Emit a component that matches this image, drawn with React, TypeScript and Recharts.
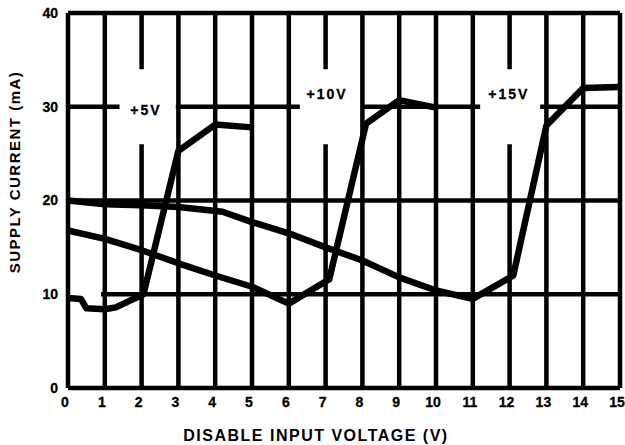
import { LineChart, Line, XAxis, YAxis, ReferenceLine, ReferenceDot } from 'recharts'

// disable input voltage (V) vs supply current (mA), one curve per supply
const v5X = [0, 0.35, 0.5, 1, 1.3, 2.05, 3, 4, 5]
const v5Y = [9.6, 9.5, 8.5, 8.4, 8.6, 10, 25.3, 28.1, 27.8]

const v10X = [0, 1, 2, 3, 4, 5, 6, 7.1, 8.1, 9, 10]
const v10Y = [16.8, 15.9, 14.7, 13.3, 12.0, 10.8, 9.0, 11.6, 28.2, 30.7, 29.9]

const v15X = [0, 1, 2, 3, 4.2, 5, 6, 7, 8, 9, 10, 11, 12.1, 13, 14, 15]
const v15Y = [20, 19.6, 19.5, 19.3, 18.8, 17.7, 16.5, 15.0, 13.6, 11.8, 10.4, 9.5, 12.0, 28.0, 32.0, 32.1]

const xTicks = [0, 1, 2, 3, 4, 5, 6, 7, 8, 9, 10, 11, 12, 13, 14, 15]
const yTicks = [0, 10, 20, 30, 40]

const curveLabels = [
  { text: '+5V', x: 2.12, y: 29.6 },
  { text: '+10V', x: 7.04, y: 31.4 },
  { text: '+15V', x: 11.98, y: 31.4 },
]

// full-height grid lines, and the ones broken where a curve label sits
const fullVerticals = [1, 3, 4, 5, 6, 8, 9, 10, 11, 13, 14, 15]
const brokenVerticals = [2, 7, 12]
const row30 = [[0, 1.4], [2.93, 6.3], [7.96, 11.2], [12.83, 15]]

const toPoints = (xs: number[], ys: number[]) => xs.map((x, i) => ({ x, y: ys[i] }))

const FONT = '"Liberation Sans", Arial, sans-serif'
const GRID = { stroke: '#000', strokeWidth: 4.5 }

export default function App() {
  const tickStyle = {
    fill: '#000', fontSize: 14, fontWeight: 700, fontFamily: FONT,
    stroke: '#000', strokeWidth: 0.3,
  }

  return (
    <div style={{ position: 'absolute', left: 0, top: 0, background: '#fff' }}>
      <LineChart width={625} height={445} margin={{ top: 13, right: 5, bottom: 0, left: 0 }}>
        <XAxis
          type="number"
          dataKey="x"
          domain={[0, 15]}
          ticks={xTicks}
          interval={0}
          tick={{ ...tickStyle, dx: -3 }}
          tickLine={false}
          tickSize={0}
          tickMargin={9}
          axisLine={GRID}
          height={57}
          label={{
            content: () => (
              <text x={316} y={441} textAnchor="middle" fontFamily={FONT} fontSize={16}
                fontWeight={700} letterSpacing={1.5} fill="#000">
                DISABLE INPUT VOLTAGE (V)
              </text>
            ),
          }}
        />
        <YAxis
          type="number"
          domain={[0, 40]}
          ticks={yTicks}
          tick={tickStyle}
          tickLine={false}
          tickSize={0}
          tickMargin={10}
          axisLine={GRID}
          width={68}
          label={{
            content: () => (
              <text x={20} y={172} transform="rotate(-90 20 172)" textAnchor="middle"
                fontFamily={FONT} fontSize={15} fontWeight={700} letterSpacing={1.5} fill="#000">
                SUPPLY CURRENT (mA)
              </text>
            ),
          }}
        />

        {fullVerticals.map(v => <ReferenceLine key={'v' + v} x={v} {...GRID} />)}
        {brokenVerticals.map(v => [
          <ReferenceLine key={'b' + v} segment={[{ x: v, y: 0 }, { x: v, y: 26 }]} {...GRID} />,
          <ReferenceLine key={'t' + v} segment={[{ x: v, y: 34 }, { x: v, y: 40 }]} {...GRID} />,
        ])}
        <ReferenceLine y={40} {...GRID} />
        <ReferenceLine y={20} {...GRID} />
        <ReferenceLine segment={[{ x: 0.9, y: 10 }, { x: 15, y: 10 }]} {...GRID} />
        {row30.map(([a, b]) => (
          <ReferenceLine key={'h' + a} segment={[{ x: a, y: 30 }, { x: b, y: 30 }]} {...GRID} />
        ))}

        <Line data={toPoints(v5X, v5Y)} dataKey="y" stroke="#000" strokeWidth={6.5} dot={false}
          type="linear" isAnimationActive={false} strokeLinejoin="round" />
        <Line data={toPoints(v10X, v10Y)} dataKey="y" stroke="#000" strokeWidth={6.5} dot={false}
          type="linear" isAnimationActive={false} strokeLinejoin="round" />
        <Line data={toPoints(v15X, v15Y)} dataKey="y" stroke="#000" strokeWidth={6.5} dot={false}
          type="linear" isAnimationActive={false} strokeLinejoin="round" />

        {curveLabels.map(l => (
          <ReferenceDot key={l.text} x={l.x} y={l.y} r={0} fill="none" stroke="none"
            label={{
              value: l.text, position: 'center', fill: '#000', fontSize: 14, fontWeight: 700,
              fontFamily: FONT, stroke: '#000', strokeWidth: 0.3, letterSpacing: 2,
            }} />
        ))}
      </LineChart>
    </div>
  )
}
